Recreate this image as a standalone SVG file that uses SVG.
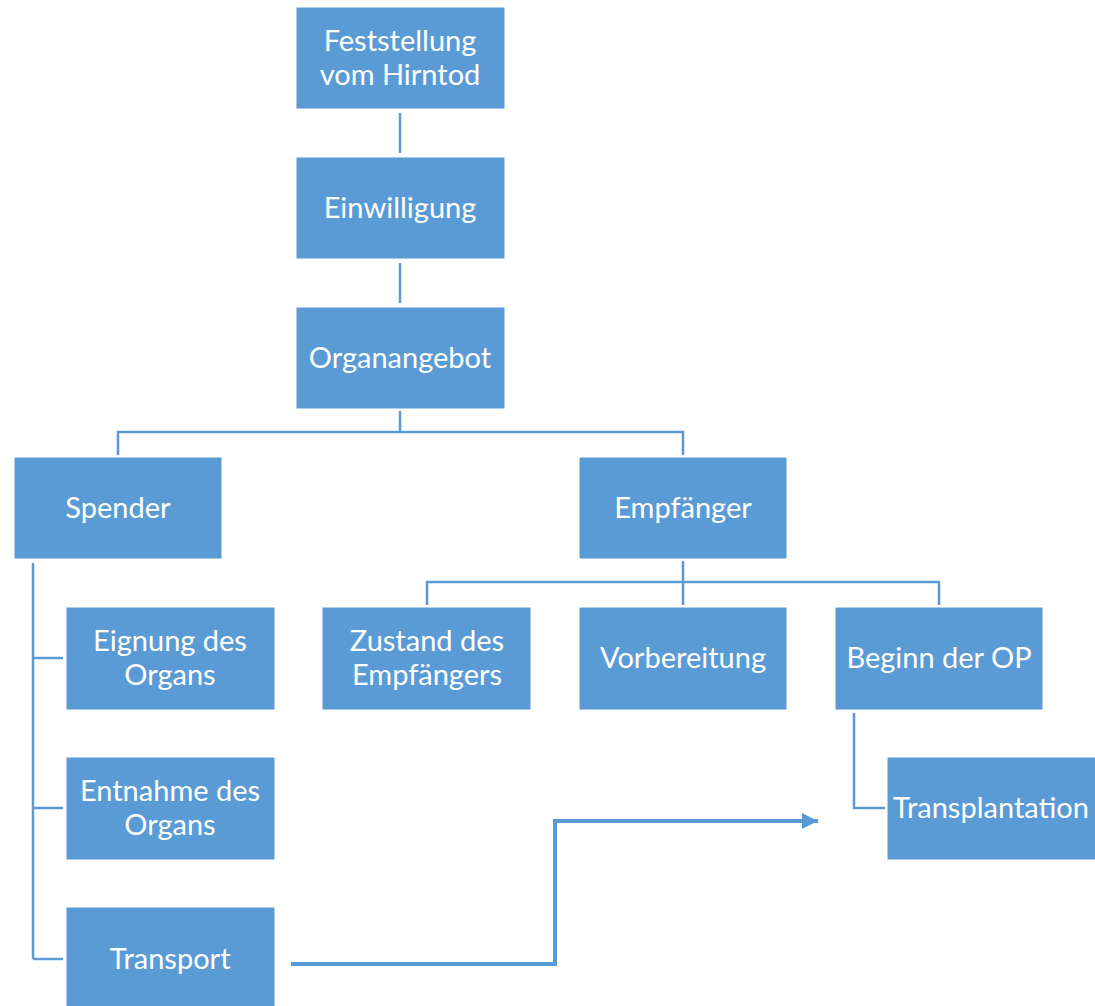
<svg xmlns="http://www.w3.org/2000/svg" width="1095" height="1006" viewBox="0 0 1095 1006">
<style>
.box{fill:#5B9BD5;stroke:#ffffff;stroke-width:1}
.t{font-family:Lato,"Open Sans",sans-serif;font-size:29px;fill:#ffffff;text-anchor:middle;dominant-baseline:central}
.ln{fill:none;stroke:#5B9BD5;stroke-width:2.5}
.ar{fill:none;stroke:#5B9BD5;stroke-width:4}
</style>
<defs>
<marker id="ah" viewBox="0 0 10 10" refX="10" refY="5" markerWidth="4" markerHeight="4" orient="auto" markerUnits="strokeWidth">
<path d="M0,0 L10,5 L0,10 z" fill="#5B9BD5"/>
</marker>
</defs>
<g id="connectors">
<path class="ln" d="M400,113 V153"/>
<path class="ln" d="M400,263 V303"/>
<path class="ln" d="M400,411 V432 M118,455 V432 H683 V455"/>
<path class="ln" d="M683,561 V582 M427,605 V582 H939 V605 M683,582 V605"/>
<path class="ln" d="M33,563 V959 M33,658 H63 M33,808 H63 M33,959 H63"/>
<path class="ln" d="M854,713 V808 H885"/>
<path class="ar" d="M291,964 H555 V821 H818" marker-end="url(#ah)"/>
</g>
<g id="n1"><rect class="box" x="296" y="7" width="209" height="102"/><text class="t" x="400" y="39">Feststellung</text><text class="t" x="400" y="73">vom Hirntod</text></g>
<g id="n2"><rect class="box" x="296" y="157" width="209" height="102"/><text class="t" x="400" y="206">Einwilligung</text></g>
<g id="n3"><rect class="box" x="296" y="307" width="209" height="102"/><text class="t" x="400" y="356">Organangebot</text></g>
<g id="n4"><rect class="box" x="14" y="457" width="208" height="102"/><text class="t" x="118" y="506">Spender</text></g>
<g id="n5"><rect class="box" x="579" y="457" width="208" height="102"/><text class="t" x="683" y="506">Empfänger</text></g>
<g id="n6"><rect class="box" x="322" y="607" width="209" height="103"/><text class="t" x="427" y="639">Zustand des</text><text class="t" x="427" y="673">Empfängers</text></g>
<g id="n7"><rect class="box" x="579" y="607" width="208" height="103"/><text class="t" x="683" y="656">Vorbereitung</text></g>
<g id="n8"><rect class="box" x="835" y="607" width="208" height="103"/><text class="t" x="939" y="656">Beginn der OP</text></g>
<g id="n9"><rect class="box" x="66" y="607" width="209" height="103"/><text class="t" x="170" y="639">Eignung des</text><text class="t" x="170" y="673">Organs</text></g>
<g id="n10"><rect class="box" x="66" y="757" width="209" height="103"/><text class="t" x="170" y="789">Entnahme des</text><text class="t" x="170" y="823">Organs</text></g>
<g id="n11"><rect class="box" x="66" y="907" width="209" height="103"/><text class="t" x="170" y="957">Transport</text></g>
<g id="n12"><rect class="box" x="887" y="757" width="209" height="103"/><text class="t" x="991" y="806">Transplantation</text></g>
</svg>
